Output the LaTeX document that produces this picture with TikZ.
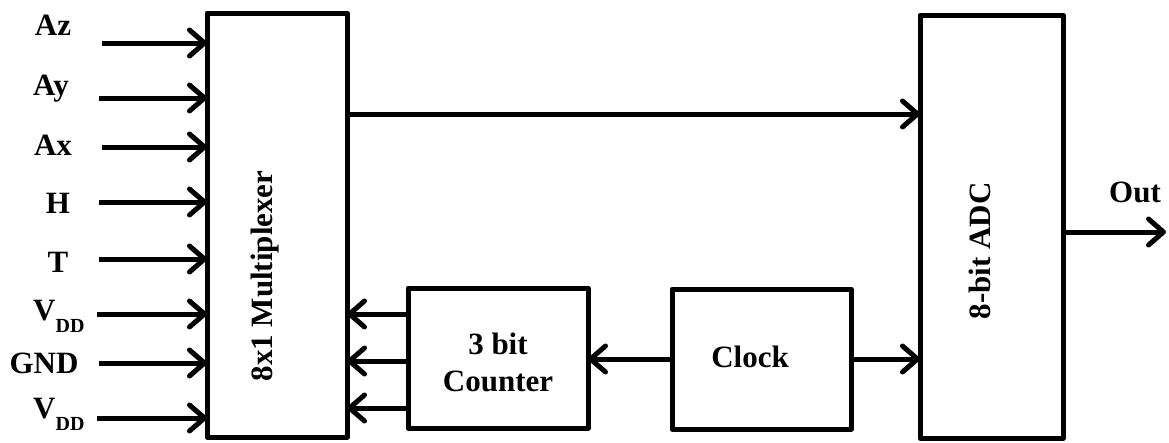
\documentclass[tikz,border=0pt]{standalone}
\usepackage{fontspec}
\setmainfont{Liberation Serif}
\usetikzlibrary{arrows.meta}
\tikzset{
  box/.style={draw, line width=5pt, rectangle, inner sep=0pt, outer sep=0pt, line join=round},
  arr/.style={-{Straight Barb[length=15pt,width=26pt,round]}, line width=5pt},
  lbl/.style={font=\fontsize{31}{37}\selectfont\bfseries, inner sep=0pt, anchor=base},
}
\newcommand{\vddlabel}{V\raisebox{-12pt}{\fontsize{20}{20}\selectfont DD}}
\begin{document}
\begin{tikzpicture}[x=1pt,y=-1pt]
\useasboundingbox (0,0) rectangle (1169,442);
% boxes
\node[box, minimum width=140pt, minimum height=424pt] (mux) at (277,225) {};
\node[box, minimum width=143pt, minimum height=423pt] (adc) at (991.5,226.5) {};
\node[box, minimum width=180pt, minimum height=140pt] (cnt) at (498,358) {};
\node[box, minimum width=179pt, minimum height=140pt] (clk) at (761.5,359) {};
% box texts
\node[lbl, anchor=center, rotate=90] (muxt) at (265,276) {8x1 Multiplexer};
\node[lbl, anchor=center, rotate=90] (adct) at (980,251) {8-bit ADC};
\node[lbl, anchor=center, align=center] (cntt) at (498,362) {3 bit\\Counter};
\node[lbl, anchor=center] (clkt) at (750,357) {Clock};
% input labels
\node[lbl] (laz) at (53,35) {Az};
\node[lbl] (lay) at (51,95) {Ay};
\node[lbl] (lax) at (53,155) {Ax};
\node[lbl] (lh) at (58,213) {H};
\node[lbl] (lt) at (58,272) {T};
\node[lbl, anchor=base west] (lv1) at (33,320) {\vddlabel};
\node[lbl] (lg) at (44,373) {GND};
\node[lbl, anchor=base west] (lv2) at (33,418) {\vddlabel};
\node[lbl] (lout) at (1135,202) {Out};
% input arrow starts
\coordinate (s1) at (102,43);
\coordinate (s2) at (99,98);
\coordinate (s3) at (102,147);
\coordinate (s4) at (99,202);
\coordinate (s5) at (99,259);
\coordinate (s6) at (97,314);
\coordinate (s7) at (99,363);
\coordinate (s8) at (97,418);
\foreach \s in {s1,s2,s3,s4,s5,s6,s7,s8}
  \draw[arr] (\s) -- (\s -| mux.west);
% mux to adc
\coordinate (m1) at (347,114);
\draw[arr] (mux.east |- m1) -- (adc.west |- m1);
% counter to mux
\coordinate (c1) at (500,314);
\coordinate (c2) at (500,361);
\coordinate (c3) at (500,408);
\foreach \c in {c1,c2,c3}
  \draw[arr] (cnt.west |- \c) -- (mux.east |- \c);
% clock
\coordinate (k1) at (700,359);
\draw[arr] (clk.west |- k1) -- (cnt.east |- k1);
\draw[arr] (clk.east |- k1) -- (adc.west |- k1);
% out
\coordinate (o1) at (1166,232);
\draw[arr] (adc.east |- o1) -- (o1);
\end{tikzpicture}
\end{document}
